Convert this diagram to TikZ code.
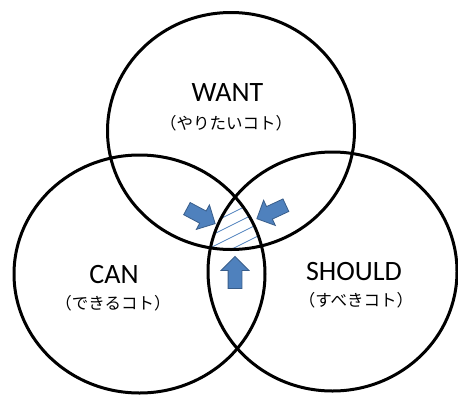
\documentclass[tikz,border=0pt]{standalone}
\usepackage{fontspec}
\setmainfont{Carlito}
\newfontfamily\jp{Noto Sans CJK JP}
\usetikzlibrary{
    shapes.arrows
}
\definecolor{arrowblue}{HTML}{4F81BD}
\definecolor{arrowedge}{HTML}{385D8A}

\begin{document}
\begin{tikzpicture}[
    x=1pt, y=-1pt,
    ring/.style={draw, line width=3pt},
    title/.style={font=\fontsize{28}{28}\selectfont, inner sep=0pt},
    sub/.style={font=\jp\fontsize{16.5}{16.5}\selectfont, inner sep=0pt},
    push/.style={
        single arrow,
        draw=arrowedge,
        fill=arrowblue,
        line width=0.8pt,
        inner sep=6.5pt,
        minimum width=27pt,
        minimum height=32pt,
        single arrow head extend=7pt
    },
    hatch/.style={draw=arrowblue, line width=0.8pt}
]

\useasboundingbox (0,0) rectangle (458,394);

\def\wantring{(231,131) ellipse [x radius=123.5pt, y radius=118.5pt]}
\def\canring{(139.5,274) ellipse [x radius=125.5pt, y radius=119pt]}
\def\shouldring{(332.5,271.5) ellipse [x radius=124.5pt, y radius=119.5pt]}

% ============================================================
% COMMON AREA
% ============================================================

\begin{scope}
\clip \wantring;
\clip \canring;
\clip \shouldring;
\foreach \c in {329,341,353,365} {
    \draw[hatch] (200,\c-100) -- (280,\c-140);
}
\end{scope}

% ============================================================
% THREE RINGS
% ============================================================

\draw[ring] \wantring;
\draw[ring] \canring;
\draw[ring] \shouldring;

\node[title] (want) at (227.5,93) {WANT};
\node[sub] (wantjp) at (226,123) {（やりたいコト）};

\node[title] (can) at (114,275) {CAN};
\node[sub] (canjp) at (113,303) {（できるコト）};

\node[title] (should) at (354,272) {SHOULD};
\node[sub] (shouldjp) at (356,300) {（すべきコト）};

% ============================================================
% ARROWS
% ============================================================

\node[push, rotate=-28] (fromwant) at (198,214.5) {};
\node[push, rotate=205] (fromshould) at (274.5,210.5) {};
\node[push, rotate=90] (fromcan) at (235,276) {};

\end{tikzpicture}
\end{document}
